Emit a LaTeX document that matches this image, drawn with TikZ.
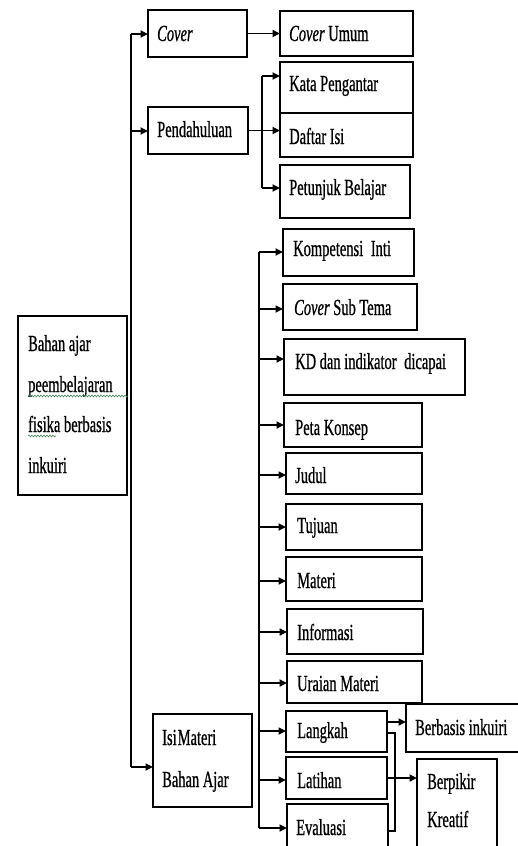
\documentclass[tikz,border=0pt]{standalone}
\usepackage{fontspec}
\setmainfont{Liberation Serif}[FakeStretch=0.63,FakeBold=0.7]
\usetikzlibrary{arrows.meta,decorations.pathmorphing}
\newcommand\mybox[5]{%
  \pgfmathsetmacro\bw{#4-#2}\pgfmathsetmacro\bh{#5-#3}%
  \node[box,minimum width=\bw pt,minimum height=\bh pt,anchor=north west] (#1) at (#2,#3) {};}
\newcommand\mytxt[4]{\node[txt] (#1) at (#2,#3) {#4};}
\begin{document}
\begin{tikzpicture}[x=1pt,y=-1pt,
  box/.style={draw,line width=1.4pt,inner sep=0pt,outer sep=0pt},
  txt/.style={anchor=base west,inner sep=0pt,font=\fontsize{23}{27}\selectfont},
  conn/.style={line width=1.7pt},
  arr/.style={conn,-{Triangle[length=7.5pt,width=7pt]}},
  wavy/.style={draw={rgb,255:red,70;green,130;blue,90},line width=0.6pt,
    decorate,decoration={snake,segment length=3pt,amplitude=0.9pt}}]
\useasboundingbox[fill=white] (0,0) rectangle (517,846);
% boxes
\mybox{main}{18}{316}{127}{495}
\mybox{cover}{148}{10}{247}{57}
\mybox{pend}{148}{107}{248}{154}
\mybox{isi}{153}{714}{252}{807}
\mybox{coverumum}{280}{11}{413}{56}
\mybox{kata}{280}{62}{413}{113}
\mybox{daftar}{280}{113}{413}{157}
\mybox{petunjuk}{280}{165}{410}{218}
\mybox{komp}{283}{229}{414}{276}
\mybox{cst}{283}{284}{417}{330}
\mybox{kd}{284}{339}{465}{395}
\mybox{peta}{284}{403}{422}{447}
\mybox{judul}{286}{453}{422}{494}
\mybox{tujuan}{286}{504}{422}{550}
\mybox{materi}{286}{557}{422}{601}
\mybox{info}{287}{609}{423}{654}
\mybox{uraian}{287}{661}{422}{703}
\mybox{langkah}{286}{711}{387}{752}
\mybox{latihan}{286}{757}{387}{799}
\mybox{evaluasi}{287}{804}{388}{852}
\mybox{berbasis}{406}{704}{522}{752}
\mybox{berpikir}{417}{759}{497}{852}
\draw[line width=2.8pt] (kata.south west) -- (kata.south east);
% texts
\mytxt{main-t1}{28}{351}{Bahan ajar}
\mytxt{main-t2}{28}{392}{peembelajaran}
\mytxt{main-t3}{28}{432}{fisika berbasis}
\mytxt{main-t4}{28}{473}{inkuiri}
\draw[wavy] (28,396) -- (128,396);
\draw[wavy] (28,436) -- (56,436);
\mytxt{cover-t}{157}{41}{\textit{Cover}}
\mytxt{pend-t}{157}{137}{Pendahuluan}
\mytxt{isi-t1}{162}{745}{Isi\kern1pt Materi}
\mytxt{isi-t2}{162}{787}{Bahan Ajar}
\mytxt{coverumum-t}{289}{41}{\textit{Cover} Umum}
\mytxt{kata-t}{289}{91}{Kata Pengantar}
\mytxt{daftar-t}{289}{144}{Daftar Isi}
\mytxt{petunjuk-t}{289}{195}{Petunjuk Belajar}
\mytxt{komp-t}{293}{256}{Kompetensi\hspace{4pt} Inti}
\mytxt{cst-t}{294}{315}{\textit{Cover} Sub Tema}
\mytxt{kd-t}{295}{369}{KD dan indikator\hspace{4pt} dicapai}
\mytxt{peta-t}{295}{435}{Peta Konsep}
\mytxt{judul-t}{295}{483}{Judul}
\mytxt{tujuan-t}{297}{533}{Tujuan}
\mytxt{materi-t}{297}{588}{Materi}
\mytxt{info-t}{297}{640}{Informasi}
\mytxt{uraian-t}{297}{691}{Uraian Materi}
\mytxt{langkah-t}{297}{738}{Langkah}
\mytxt{latihan-t}{297}{788}{Latihan}
\mytxt{evaluasi-t}{296}{835}{Evaluasi}
\mytxt{berbasis-t}{415}{735}{Berbasis inkuiri}
\mytxt{berpikir-t1}{427}{789}{Berpikir}
\mytxt{berpikir-t2}{427}{827}{Kreatif}
% trunk 1
\coordinate (j1a) at (131,34);
\coordinate (j1p) at (131,131);
\coordinate (j1b) at (131,767);
\draw[conn] (j1a) -- (j1b);
\draw[arr] (j1a) -- (cover.west |- j1a);
\draw[arr] (j1p) -- (pend.west |- j1p);
\draw[arr] (j1b) -- (isi.west |- j1b);
% cover -> cover umum
\draw[arr] (cover.east) -- (coverumum.west |- cover.east);
% pendahuluan
\coordinate (j2a) at (262,76);
\coordinate (j2b) at (262,188);
\draw[arr] (pend.east) -- (daftar.west |- pend.east);
\draw[conn] (j2a) -- (j2b);
\draw[arr] (j2a) -- (kata.west |- j2a);
\draw[arr] (j2b) -- (petunjuk.west |- j2b);
% trunk 2
\foreach \n/\yy in {komp/252,cst/309,kd/359,peta/425,judul/475,tujuan/527,materi/581,info/632,uraian/683,langkah/731,latihan/780,evaluasi/828}{
  \coordinate (k-\n) at (259,\yy);
  \draw[arr] (k-\n) -- (\n.west |- k-\n);
}
\draw[conn] (k-komp) -- (k-evaluasi);
% bottom right
\coordinate (lk1) at (387,722);
\coordinate (lk2) at (387,733);
\coordinate (ev2) at (388,831);
\draw[arr] (lk1) -- (berbasis.west |- lk1);
\draw[conn] (lk2) -- (395,733) |- (ev2);
\draw[arr] (latihan.east) -- (berpikir.west |- latihan.east);
\end{tikzpicture}
\end{document}
